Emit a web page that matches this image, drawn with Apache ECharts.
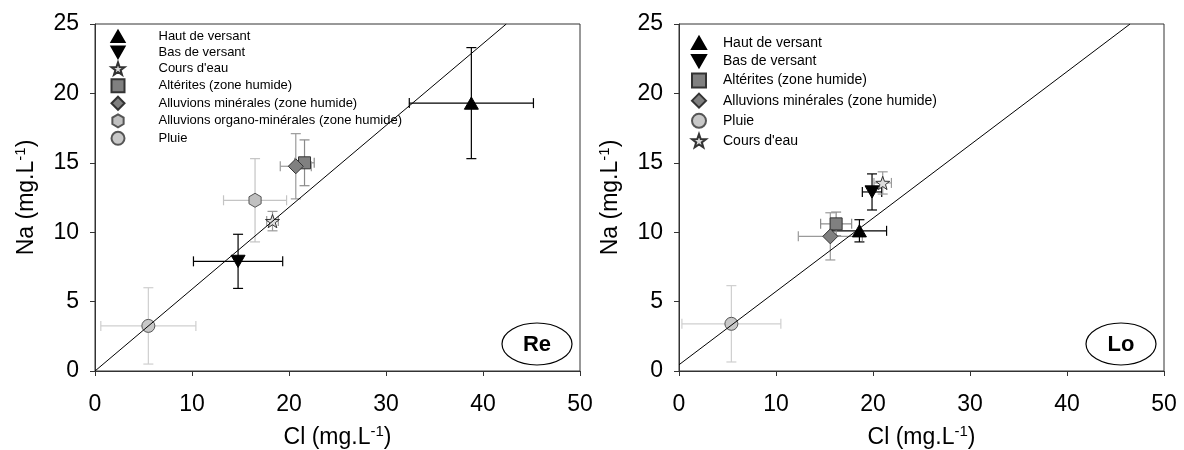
<!DOCTYPE html>
<html><head><meta charset="utf-8">
<script src="https://cdn.jsdelivr.net/npm/echarts@6/dist/echarts.min.js"></script>
<style>html,body{margin:0;padding:0;background:#fff}#c{width:1184px;height:450px}</style>
</head><body><div id="c"></div>
<script>
// ---- data ----
const xTicks = [0, 10, 20, 30, 40, 50];
const yTicks = [0, 5, 10, 15, 20, 25];

// Panel "Re"
const reNames = ['Haut de versant', 'Bas de versant', "Cours d'eau", 'Altérites (zone humide)', 'Alluvions minérales (zone humide)', 'Alluvions organo-minérales (zone humide)', 'Pluie'];
const reCl    = [38.8, 14.75, 18.3, 21.6, 20.7, 16.5, 5.5];
const reNa    = [19.3, 7.9, 10.8, 15.0, 14.75, 12.3, 3.25];
const reClErr = [6.4, 4.6, 0.6, 1.0, 1.6, 3.25, 4.9];
const reNaErr = [4.0, 1.95, 0.7, 1.65, 2.35, 3.0, 2.75];
const reLine  = [[0, 0], [42.4, 25]];

// Panel "Lo"
const loNames = ['Haut de versant', 'Bas de versant', 'Altérites (zone humide)', 'Alluvions minérales (zone humide)', 'Pluie', "Cours d'eau"];
const loCl    = [18.6, 19.9, 16.2, 15.6, 5.4, 21.0];
const loNa    = [10.1, 12.9, 10.6, 9.7, 3.4, 13.55];
const loClErr = [2.8, 1.0, 1.6, 3.3, 5.1, 0.9];
const loNaErr = [0.8, 1.3, 0.85, 1.7, 2.75, 0.8];
const loLine  = [[0, 0.45], [46.5, 25]];

const panelLabels = ['Re', 'Lo'];
const xTitle = 'Cl (mg.L{s|-1})';
const yTitle = 'Na (mg.L{s|-1})';

// ---- styles ----
const FONT = 'Liberation Sans, Arial, sans-serif';
const STAR = 'path://M10,0L12.35,6.76L19.51,6.91L13.8,11.24L15.88,18.09L10,14L4.12,18.09L6.2,11.24L0.49,6.91L7.65,6.76Z';
const HEX = 'path://M5,0L9.33,2.5L9.33,7.5L5,10L0.67,7.5L0.67,2.5Z';
const DOWN = 'path://M0,0L10,0L5,8.7Z';
const UP = 'path://M5,0L10,8.7L0,8.7Z';
const STYLE = {
  'Haut de versant': {symbol: UP, size: 14, fill: '#000', stroke: '#000', err: '#000'},
  'Bas de versant': {symbol: DOWN, size: 14, fill: '#000', stroke: '#000', err: '#000'},
  "Cours d'eau": {symbol: STAR, size: 14, fill: '#dcdcdc', stroke: '#333', err: '#9a9a9a'},
  'Altérites (zone humide)': {symbol: 'rect', size: 12, fill: '#808080', stroke: '#333', err: '#8a8a8a'},
  'Alluvions minérales (zone humide)': {symbol: 'diamond', size: 15, fill: '#808080', stroke: '#333', err: '#9a9a9a'},
  'Alluvions organo-minérales (zone humide)': {symbol: HEX, size: 14, fill: '#c0c0c0', stroke: '#555', err: '#c4c4c4'},
  'Pluie': {symbol: 'circle', size: 13, fill: '#c8c8c8', stroke: '#555', err: '#cfcfcf'}
};

function errSeries(names, cl, na, ecl, ena, gi) {
  return {
    type: 'custom', name: 'err' + gi, xAxisIndex: gi, yAxisIndex: gi, z: 1,
    silent: true, clip: false,
    encode: {x: 0, y: 1},
    data: cl.map((v, i) => [v, na[i], ecl[i], ena[i]]),
    renderItem: function (params, api) {
      const x = api.value(0), y = api.value(1), ex = api.value(2), ey = api.value(3);
      const col = STYLE[names[params.dataIndex]].err;
      const l = api.coord([x - ex, y]), r = api.coord([x + ex, y]);
      const t = api.coord([x, y + ey]), b = api.coord([x, y - ey]);
      const cap = 5;
      const st = {stroke: col, lineWidth: 1.2};
      const ln = (x1, y1, x2, y2) => ({type: 'line', shape: {x1, y1, x2, y2}, style: st});
      return {type: 'group', children: [
        ln(l[0], l[1], r[0], r[1]),
        ln(l[0], l[1] - cap, l[0], l[1] + cap),
        ln(r[0], r[1] - cap, r[0], r[1] + cap),
        ln(t[0], t[1], b[0], b[1]),
        ln(t[0] - cap, t[1], t[0] + cap, t[1]),
        ln(b[0] - cap, b[1], b[0] + cap, b[1])
      ]};
    }
  };
}

function pointSeries(names, cl, na, gi) {
  return names.map((n, i) => {
    const s = STYLE[n];
    return {
      type: 'scatter', name: n, xAxisIndex: gi, yAxisIndex: gi, z: 3,
      symbol: s.symbol, symbolSize: s.size, symbolKeepAspect: true,
      itemStyle: {color: s.fill, borderColor: s.stroke, borderWidth: 1, opacity: 1},
      emphasis: {disabled: true},
      data: [[cl[i], na[i]]]
    };
  });
}

function lineSeries(pts, gi) {
  return {
    type: 'line', name: 'ligne' + gi, xAxisIndex: gi, yAxisIndex: gi, z: 4,
    showSymbol: false, silent: true, clip: true,
    lineStyle: {color: '#000', width: 1},
    data: pts
  };
}

const nameStyle = {
  fontFamily: FONT, fontSize: 23, color: '#000', lineHeight: 27,
  rich: {s: {fontFamily: FONT, fontSize: 15, color: '#000', verticalAlign: 'top', lineHeight: 16}}
};

function mkX(gi) {
  return {
    type: 'value', gridIndex: gi, min: xTicks[0], max: xTicks[xTicks.length - 1], interval: xTicks[1] - xTicks[0],
    name: xTitle, nameLocation: 'middle', nameGap: 53, nameTextStyle: nameStyle,
    axisLine: {show: true, onZero: false, lineStyle: {color: '#333', width: 1}},
    axisTick: {show: true, length: 5, lineStyle: {color: '#333'}},
    axisLabel: {fontFamily: FONT, fontSize: 23, color: '#000', margin: 22},
    splitLine: {show: false}
  };
}
function mkY(gi) {
  return {
    type: 'value', gridIndex: gi, min: yTicks[0], max: yTicks[yTicks.length - 1], interval: yTicks[1] - yTicks[0],
    name: yTitle, nameLocation: 'middle', nameGap: 55, nameTextStyle: nameStyle,
    axisLine: {show: true, onZero: false, lineStyle: {color: '#333', width: 1}},
    axisTick: {show: true, length: 5, lineStyle: {color: '#333'}},
    axisLabel: {fontFamily: FONT, fontSize: 23, color: '#000', margin: 16},
    splitLine: {show: false}
  };
}

const chart = echarts.init(document.getElementById('c'), null, {renderer: 'canvas'});
chart.setOption({
  animation: false,
  backgroundColor: '#fff',
  grid: [
    {left: 95, right: 604, top: 24, bottom: 79, outerBoundsMode: 'none', containLabel: false, show: true, borderColor: '#333', borderWidth: 1, backgroundColor: 'transparent'},
    {left: 679, right: 20, top: 24, bottom: 79, outerBoundsMode: 'none', containLabel: false, show: true, borderColor: '#333', borderWidth: 1, backgroundColor: 'transparent'}
  ],
  xAxis: [mkX(0), mkX(1)],
  yAxis: [mkY(0), mkY(1)],
  legend: [
    {orient: 'vertical', left: 110.5, top: 29.8, padding: 0, itemWidth: 13, itemHeight: 13, itemGap: 2.5,
     selectedMode: false, data: reNames,
     textStyle: {fontFamily: FONT, fontSize: 13, color: '#000', lineHeight: 13, padding: [0, 0, 0, 29]}},
    {orient: 'vertical', left: 691, top: 35.7, padding: 0, itemWidth: 14, itemHeight: 14, itemGap: 4.2,
     selectedMode: false, data: loNames,
     textStyle: {fontFamily: FONT, fontSize: 14, color: '#000', lineHeight: 14, padding: [0, 0, 0, 12]}}
  ],
  graphic: [
    {type: 'ellipse', shape: {cx: 537, cy: 344, rx: 35, ry: 21}, style: {fill: '#fff', stroke: '#000', lineWidth: 1.2}, z: 10},
    {type: 'text', x: 537, y: 345, style: {text: panelLabels[0], font: 'bold 22px ' + FONT, fill: '#000', align: 'center', verticalAlign: 'middle'}, z: 11},
    {type: 'ellipse', shape: {cx: 1121, cy: 344, rx: 35, ry: 21}, style: {fill: '#fff', stroke: '#000', lineWidth: 1.2}, z: 10},
    {type: 'text', x: 1121, y: 345, style: {text: panelLabels[1], font: 'bold 22px ' + FONT, fill: '#000', align: 'center', verticalAlign: 'middle'}, z: 11}
  ],
  series: [
    errSeries(reNames, reCl, reNa, reClErr, reNaErr, 0),
    ...pointSeries(reNames, reCl, reNa, 0),
    lineSeries(reLine, 0),
    errSeries(loNames, loCl, loNa, loClErr, loNaErr, 1),
    ...pointSeries(loNames, loCl, loNa, 1),
    lineSeries(loLine, 1)
  ]
});
</script>
</body></html>
